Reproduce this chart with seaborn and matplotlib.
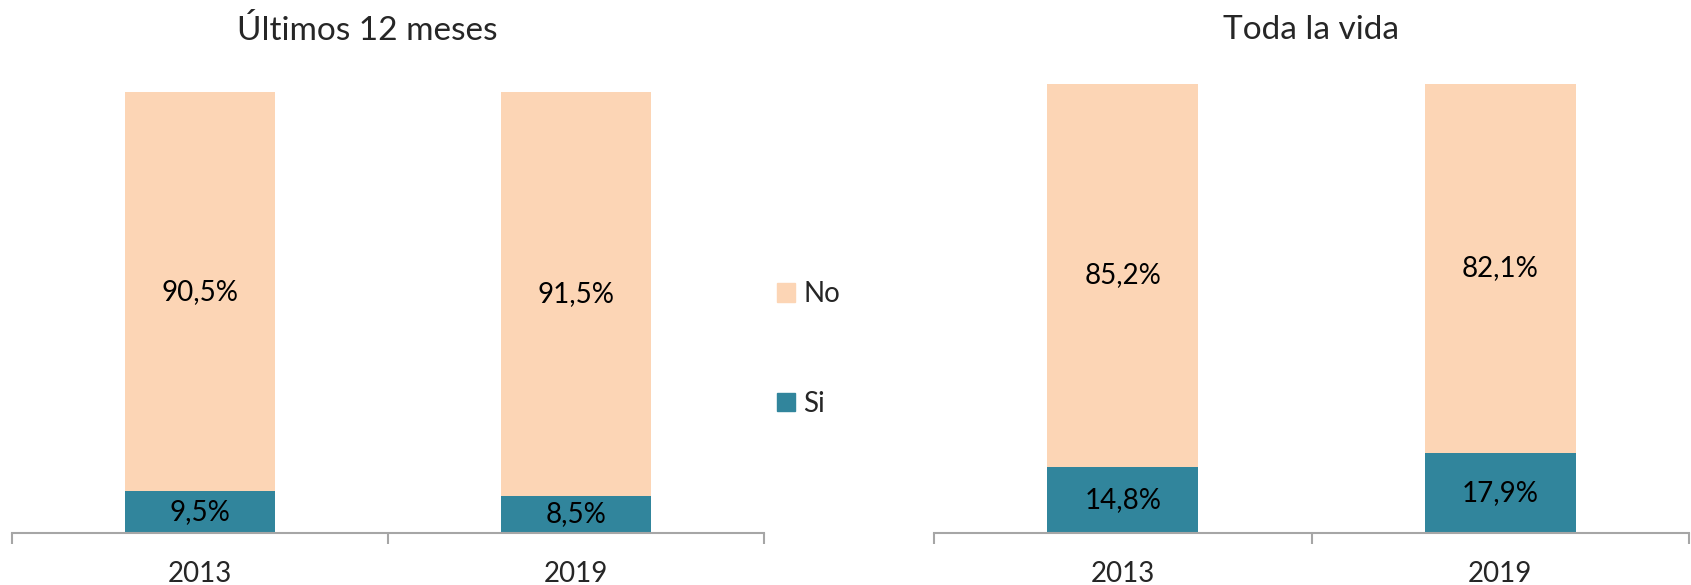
import matplotlib
matplotlib.use("Agg")
import matplotlib.pyplot as plt
from matplotlib.patches import Patch
import seaborn as sns

# data
years = ["2013", "2019"]
si_12m = [9.5, 8.5]
no_12m = [90.5, 91.5]
si_vida = [14.8, 17.9]
no_vida = [85.2, 82.1]
titles = ["Últimos 12 meses", "Toda la vida"]

PEACH = "#FCD5B5"
TEAL = "#31859C"
GREY = "#A6A6A6"

sns.set_style("white")
plt.rcParams["font.family"] = ["Lato", "DejaVu Sans"]

fig = plt.figure(figsize=(16.91, 5.85), dpi=100)
ax1 = fig.add_axes([12 / 1691, 52 / 585, 752 / 1691, 441 / 585])
ax2 = fig.add_axes([934 / 1691, 52 / 585, 755 / 1691, 449 / 585])


def draw(ax, si, no):
    total = [a + b for a, b in zip(si, no)]
    sns.barplot(x=years, y=total, color=PEACH, width=0.4, saturation=1,
                linewidth=0, ax=ax)
    sns.barplot(x=years, y=si, color=TEAL, width=0.4, saturation=1,
                linewidth=0, ax=ax)
    for i in range(len(years)):
        ax.text(i, si[i] / 2, f"{si[i]:.1f}%".replace(".", ","),
                ha="center", va="center", fontsize=20, color="black")
        ax.text(i, si[i] + no[i] / 2, f"{no[i]:.1f}%".replace(".", ","),
                ha="center", va="center", fontsize=20, color="black")
    ax.set_ylim(0, 100)
    ax.set_xlim(-0.5, 1.5)
    ax.set_yticks([])
    ax.set_ylabel("")
    for s in ["top", "right", "left"]:
        ax.spines[s].set_visible(False)
    ax.spines["bottom"].set_color(GREY)
    ax.spines["bottom"].set_linewidth(1.5)
    ax.tick_params(axis="x", which="major", bottom=False, length=0,
                   labelsize=20, pad=20)
    ax.set_xticks([-0.5, 0.5, 1.5], minor=True)
    ax.tick_params(axis="x", which="minor", bottom=True, length=8, width=1.5,
                   color=GREY, direction="out")


draw(ax1, si_12m, no_12m)
draw(ax2, si_vida, no_vida)

fig.text(367 / 1691, 1 - 30 / 585, titles[0], ha="center", va="center", fontsize=24)
fig.text(1311 / 1691, 1 - 30 / 585, titles[1], ha="center", va="center", fontsize=24)

handles = [Patch(color=PEACH, label="No"), Patch(color=TEAL, label="Si")]
fig.legend(handles=handles, loc="center left",
           bbox_to_anchor=(752 / 1691, 1 - 349 / 585), frameon=False,
           fontsize=20, labelspacing=3.0, handlelength=0.65, handleheight=0.65,
           handletextpad=0.3)

fig.savefig("out.png", dpi=100)
